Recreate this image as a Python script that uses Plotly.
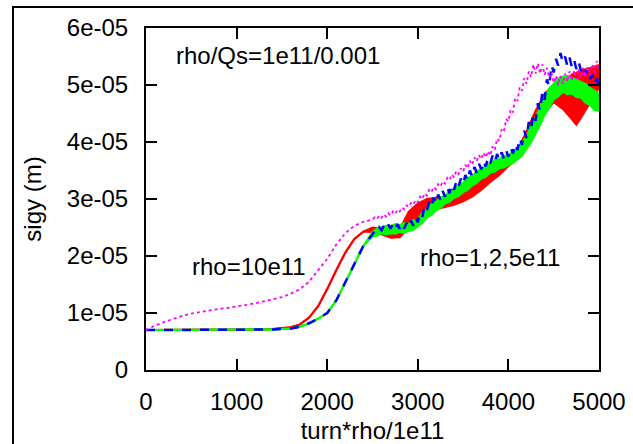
import numpy as np
import plotly.graph_objects as go

SCALE = 1e-5

# ---- data (values in units of 1e-5 m) ----
x_early = list(range(0, 2500, 100))
red_early = [0.70, 0.70, 0.70, 0.70, 0.70, 0.70, 0.70, 0.70, 0.70, 0.70, 0.71, 0.71, 0.71,
             0.71, 0.72, 0.73, 0.75, 0.80, 0.92, 1.12, 1.42, 1.75, 2.06, 2.30, 2.43]
green_early = [0.70, 0.70, 0.70, 0.70, 0.70, 0.70, 0.70, 0.70, 0.70, 0.70, 0.71, 0.71, 0.71,
               0.71, 0.71, 0.72, 0.73, 0.76, 0.82, 0.90, 1.00, 1.22, 1.55, 1.88, 2.18]
blue_early = [0.70, 0.70, 0.70, 0.70, 0.70, 0.70, 0.70, 0.70, 0.70, 0.70, 0.71, 0.71, 0.71,
              0.71, 0.71, 0.72, 0.73, 0.76, 0.82, 0.90, 1.00, 1.22, 1.55, 1.88, 2.18]
magenta_early = [0.70, 0.78, 0.84, 0.90, 0.95, 0.99, 1.02, 1.05, 1.07, 1.09, 1.11, 1.14, 1.17,
                 1.20, 1.24, 1.28, 1.34, 1.42, 1.55, 1.75, 1.95, 2.20, 2.40, 2.53, 2.60]

x_red_band = [2500, 2600, 2700, 2800, 2900, 3000, 3100, 3200, 3300, 3400, 3500, 3600, 3700,
              3800, 3900, 4000, 4100, 4200, 4300, 4400, 4500, 4600, 4700, 4750, 4800, 4900, 5000]
red_low = [2.42, 2.38, 2.32, 2.33, 2.50, 2.66, 2.78, 2.82, 2.86, 2.90, 2.96, 3.04, 3.16,
           3.30, 3.42, 3.58, 3.70, 3.92, 4.22, 4.50, 4.70, 4.58, 4.40, 4.30, 4.42, 4.68, 4.95]
red_high = [2.50, 2.48, 2.45, 2.47, 2.78, 2.92, 3.00, 3.02, 3.04, 3.06, 3.12, 3.20, 3.36,
            3.46, 3.58, 3.70, 3.86, 4.18, 4.55, 4.85, 5.00, 5.06, 5.18, 5.22, 5.25, 5.30, 5.35]

x_green_band = list(range(2500, 5001, 50))
green_low = [2.34, 2.36, 2.40, 2.38, 2.40, 2.39, 2.42, 2.41, 2.44, 2.46, 2.52, 2.58, 2.68,
             2.72, 2.80, 2.84, 2.92, 2.95, 3.02, 3.05, 3.12, 3.16, 3.24, 3.28, 3.36, 3.39,
             3.46, 3.48, 3.54, 3.55, 3.60, 3.63, 3.70, 3.76, 3.88, 3.99, 4.15, 4.30, 4.48,
             4.60, 4.75, 4.80, 4.88, 4.84, 4.85, 4.79, 4.78, 4.69, 4.65, 4.56, 4.55]
green_high = [2.42, 2.48, 2.50, 2.53, 2.52, 2.56, 2.54, 2.58, 2.56, 2.63, 2.64, 2.76, 2.82,
              2.91, 2.95, 3.03, 3.06, 3.14, 3.17, 3.25, 3.28, 3.37, 3.40, 3.49, 3.52, 3.60,
              3.62, 3.69, 3.70, 3.76, 3.76, 3.84, 3.88, 4.00, 4.10, 4.28, 4.42, 4.62, 4.78,
              4.94, 5.02, 5.12, 5.15, 5.16, 5.12, 5.10, 5.05, 5.02, 4.95, 4.90, 4.85]

x_late = list(range(2500, 5001, 25))
blue_late = [2.38, 2.44, 2.41, 2.50, 2.45, 2.53, 2.47, 2.55, 2.48, 2.56,
             2.47, 2.56, 2.48, 2.57, 2.48, 2.58, 2.50, 2.62, 2.53, 2.68,
             2.59, 2.77, 2.69, 2.87, 2.79, 2.95, 2.86, 3.02, 2.92, 3.08,
             2.98, 3.14, 3.04, 3.20, 3.10, 3.26, 3.16, 3.31, 3.21, 3.36,
             3.26, 3.42, 3.32, 3.50, 3.39, 3.56, 3.46, 3.62, 3.52, 3.67,
             3.57, 3.72, 3.62, 3.76, 3.65, 3.79, 3.68, 3.82, 3.71, 3.85,
             3.74, 3.91, 3.80, 3.97, 3.86, 4.07, 3.95, 4.20, 4.07, 4.35,
             4.22, 4.50, 4.37, 4.68, 4.55, 4.88, 4.74, 5.10, 4.97, 5.35,
             5.22, 5.46, 5.34, 5.56, 5.40, 5.50, 5.34, 5.48, 5.32, 5.44,
             5.28, 5.41, 5.25, 5.34, 5.18, 5.26, 5.10, 5.18, 5.02, 5.12,
             4.96]
magenta_late = [2.64, 2.68, 2.65, 2.71, 2.67, 2.73, 2.69, 2.75, 2.71, 2.78,
                2.74, 2.81, 2.78, 2.85, 2.82, 2.89, 2.86, 2.93, 2.90, 2.98,
                2.94, 3.04, 3.00, 3.10, 3.06, 3.16, 3.12, 3.21, 3.17, 3.26,
                3.22, 3.31, 3.27, 3.37, 3.33, 3.43, 3.38, 3.49, 3.44, 3.54,
                3.48, 3.60, 3.54, 3.67, 3.60, 3.73, 3.66, 3.77, 3.70, 3.81,
                3.73, 3.84, 3.76, 3.92, 3.86, 4.06, 4.02, 4.22, 4.18, 4.40,
                4.36, 4.57, 4.52, 4.77, 4.72, 4.96, 4.90, 5.12, 5.02, 5.24,
                5.14, 5.36, 5.20, 5.38, 5.20, 5.36, 5.18, 5.30, 5.12, 5.22,
                5.04, 5.16, 5.00, 5.16, 5.02, 5.20, 5.06, 5.24, 5.08, 5.26,
                5.10, 5.28, 5.12, 5.30, 5.14, 5.32, 5.17, 5.36, 5.22, 5.42,
                5.28]

assert len(x_early) == len(red_early) == len(green_early) == len(blue_early) == len(magenta_early)
assert len(x_red_band) == len(red_low) == len(red_high)
assert len(x_green_band) == len(green_low) == len(green_high)
assert len(x_late) == len(blue_late) == len(magenta_late)

x_tick_vals = [0, 1000, 2000, 3000, 4000, 5000]
x_tick_text = ["0", "1000", "2000", "3000", "4000", "5000"]
y_tick_vals = [0, 1e-5, 2e-5, 3e-5, 4e-5, 5e-5, 6e-5]
y_tick_text = ["0", "1e-05", "2e-05", "3e-05", "4e-05", "5e-05", "6e-05"]

RED = "#ff0000"
GREEN = "#00ff00"
BLUE = "#0000ff"
MAGENTA = "#ff00ff"
FONT = "Liberation Sans, Arial, sans-serif"
FS = 24

W, H = 633, 444
ML, MR, MT, MB = 146, 34, 28, 74


def m(v):
    return (np.array(v, dtype=float) * SCALE).tolist()


fig = go.Figure()

# red: thin line early, filled oscillation envelope later
fig.add_trace(go.Scatter(x=x_early + x_red_band, y=m(red_early + red_low), mode="lines",
                         line=dict(color=RED, width=2), showlegend=False, hoverinfo="skip"))
fig.add_trace(go.Scatter(x=x_early + x_red_band, y=m(red_early + red_high), mode="lines",
                         line=dict(color=RED, width=2), fill="tonexty", fillcolor=RED,
                         showlegend=False, hoverinfo="skip"))

# green
fig.add_trace(go.Scatter(x=x_early + x_green_band, y=m(green_early + green_low), mode="lines",
                         line=dict(color=GREEN, width=2), showlegend=False, hoverinfo="skip"))
fig.add_trace(go.Scatter(x=x_early + x_green_band, y=m(green_early + green_high), mode="lines",
                         line=dict(color=GREEN, width=2), fill="tonexty", fillcolor=GREEN,
                         showlegend=False, hoverinfo="skip"))

# blue dashed
fig.add_trace(go.Scatter(x=x_early + x_late, y=m(blue_early + blue_late), mode="lines",
                         line=dict(color=BLUE, width=2.5, dash="dash"),
                         showlegend=False, hoverinfo="skip"))

# magenta dotted
fig.add_trace(go.Scatter(x=x_early + x_late, y=m(magenta_early + magenta_late), mode="lines",
                         line=dict(color=MAGENTA, width=1.8, dash="dot"),
                         showlegend=False, hoverinfo="skip"))

axis_common = dict(showline=True, linecolor="black", linewidth=2, mirror="ticks",
                   ticks="inside", ticklen=11, tickwidth=2, tickcolor="black",
                   showgrid=False, zeroline=False, automargin=False,
                   tickfont=dict(family=FONT, size=FS, color="black"))

fig.update_xaxes(range=[0, 5000], tickvals=x_tick_vals, ticktext=x_tick_text,
                 title=dict(text="turn*rho/1e11", font=dict(family=FONT, size=FS, color="black"),
                            standoff=11),
                 ticklabelstandoff=9, **axis_common)
fig.update_yaxes(range=[0, 6e-5], tickvals=y_tick_vals, ticktext=y_tick_text,
                 title=dict(text="sigy (m)", font=dict(family=FONT, size=FS, color="black"),
                            standoff=18),
                 ticklabelstandoff=11, **axis_common)

annotations = [
    dict(x=1454, y=5.51e-5, text="rho/Qs=1e11/0.001"),
    dict(x=1139, y=1.81e-5, text="rho=10e11"),
    dict(x=3794, y=1.98e-5, text="rho=1,2,5e11"),
]
for a in annotations:
    fig.add_annotation(x=a["x"], y=a["y"], text=a["text"], showarrow=False, xref="x", yref="y",
                       font=dict(family=FONT, size=FS, color="black"))

# outer frame of the picture (pixel offsets from the plot-area corner)
plot_w = W - ML - MR
plot_h = H - MT - MB
fig.add_shape(type="rect", xref="paper", yref="paper",
              x0=(13 - ML) / plot_w, x1=1.3, y0=-0.4, y1=1 + (MT - 7) / plot_h,
              line=dict(color="black", width=2), layer="above")

fig.update_layout(width=W, height=H, margin=dict(l=ML, r=MR, t=MT, b=MB, autoexpand=False),
                  plot_bgcolor="white", paper_bgcolor="white", showlegend=False,
                  font=dict(family=FONT, color="black"))

# pin the figure to the window's top-left corner
pin = ("document.body.style.margin='0';"
       "var d=document.getElementById('{plot_id}');"
       "d.style.position='fixed';d.style.left='0px';d.style.top='0px';")
fig.write_html("out.html", config={"displayModeBar": False}, post_script=pin)
